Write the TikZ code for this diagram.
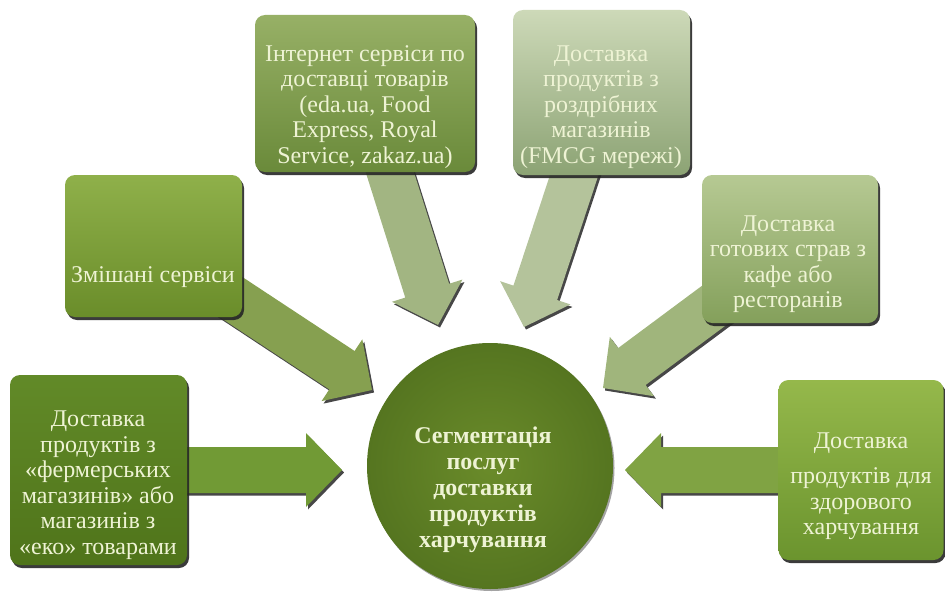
\documentclass[tikz,border=0pt]{standalone}
\usepackage{fontspec}
\setmainfont{Liberation Serif}
\usetikzlibrary{calc,shadows}
\pgfdeclarelayer{background}
\pgfsetlayers{background,main}
\newcommand\blockarrow[3]{% #1 start, #2 tip, #3 colour
  \path ($(#2)!36pt!(#1)$) coordinate (hb);
  \fill[#3, drop shadow={shadow xshift=2pt, shadow yshift=-2.5pt, fill=black!80, opacity=0.9}]
    ($(#1)!23pt!90:(#2)$) -- ($(hb)!23pt!-90:(#1)$) -- ($(hb)!37pt!-90:(#1)$) -- (#2)
    -- ($(hb)!37pt!90:(#1)$) -- ($(hb)!23pt!90:(#1)$) -- ($(#1)!23pt!-90:(#2)$) -- cycle;}
\definecolor{txt}{HTML}{EEF3D4}
\definecolor{inetT}{HTML}{97B066}
\definecolor{inetB}{HTML}{6A8A3A}
\definecolor{fmcgT}{HTML}{CDD9B8}
\definecolor{fmcgB}{HTML}{8CA374}
\definecolor{mixT}{HTML}{8FB04A}
\definecolor{mixB}{HTML}{6A8D2A}
\definecolor{farmT}{HTML}{628A28}
\definecolor{farmB}{HTML}{4F741A}
\definecolor{restT}{HTML}{B6C993}
\definecolor{restB}{HTML}{84A05B}
\definecolor{hlthT}{HTML}{95B84B}
\definecolor{hlthB}{HTML}{6B942E}
\definecolor{circI}{HTML}{6A8B2A}
\definecolor{circO}{HTML}{557520}
\definecolor{arFarm}{HTML}{719A35}
\definecolor{arHlth}{HTML}{80A343}
\definecolor{arMix}{HTML}{86A050}
\definecolor{arInet}{HTML}{A2B582}
\definecolor{arFmcg}{HTML}{B4C39B}
\definecolor{arRest}{HTML}{A0B57C}
\tikzset{
  box/.style={rounded corners=10pt, draw=none, minimum width=#1,
    drop shadow={shadow xshift=2pt, shadow yshift=-3pt, fill=black!85, opacity=0.9}},
  lbl/.style={text=txt, align=center, font=\fontsize{24}{25.5}\selectfont, inner sep=0pt},
}
\begin{document}
\begin{tikzpicture}[x=1pt,y=-1pt]
\useasboundingbox (0,0) rectangle (945,602);
% central circle
\node[circle, minimum size=246pt, inner color=circI, outer color=circO,
  drop shadow={shadow xshift=1.5pt, shadow yshift=-2pt, fill=black!60, opacity=0.6}] (hub) at (490,466) {};
% boxes
\node[box=220pt, minimum height=157pt, top color=inetT, bottom color=inetB] (inet) at (365,93.5) {};
\node[box=177pt, minimum height=165pt, top color=fmcgT, bottom color=fmcgB] (fmcg) at (601.5,92.5) {};
\node[box=177pt, minimum height=142pt, top color=mixT, bottom color=mixB] (mix) at (153.5,246) {};
\node[box=177pt, minimum height=190pt, top color=farmT, bottom color=farmB] (farm) at (98.5,470) {};
\node[box=176pt, minimum height=148pt, top color=restT, bottom color=restB] (rest) at (790,249) {};
\node[box=165pt, minimum height=180pt, top color=hlthT, bottom color=hlthB] (hlth) at (861,470) {};
% arrow tips
\coordinate (tInet) at (438,325);
\coordinate (tFmcg) at (524,327);
\coordinate (tMix) at (372,390);
\coordinate (tFarm) at (342,470);
\coordinate (tRest) at (603,388);
\coordinate (tHlth) at (625,470);
\begin{pgfonlayer}{background}
\blockarrow{inet.center}{tInet}{arInet}
\blockarrow{fmcg.center}{tFmcg}{arFmcg}
\blockarrow{mix.center}{tMix}{arMix}
\blockarrow{farm.center}{tFarm}{arFarm}
\blockarrow{rest.center}{tRest}{arRest}
\blockarrow{hlth.center}{tHlth}{arHlth}
\end{pgfonlayer}
% texts
\node[lbl] (xInet) at (365,107) {Інтернет сервіси по\\доставці товарів\\(eda.ua, Food\\Express, Royal\\Service, zakaz.ua)};
\node[lbl] (xFmcg) at (601,107) {Доставка\\продуктів з\\роздрібних\\магазинів\\(FMCG мережі)};
\node[lbl] (xMix) at (153,277) {Змішані сервіси};
\node[lbl] (xFarm) at (98,485) {Доставка\\продуктів з\\«фермерських\\магазинів» або\\магазинів з\\«еко» товарами};
\node[lbl] (xRest) at (788,264) {Доставка\\готових страв з\\кафе або\\ресторанів};
\node[lbl] (xHlth) at (861,486) {Доставка\\[10pt]продуктів для\\здорового\\харчування};
\node[lbl, font=\bfseries\fontsize{24}{26}\selectfont] (xHub) at (483,490) {Сегментація\\послуг\\доставки\\продуктів\\харчування};
\end{tikzpicture}
\end{document}
